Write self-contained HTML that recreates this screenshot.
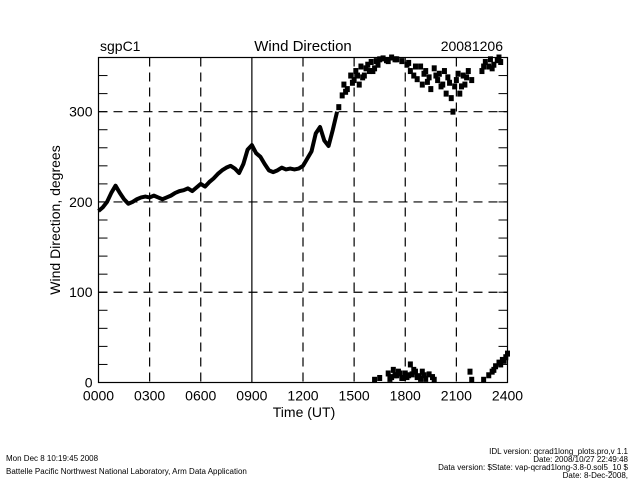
<!DOCTYPE html>
<html><head><meta charset="utf-8"><style>
html,body{margin:0;padding:0;background:#fff;width:640px;height:480px;overflow:hidden}
svg{display:block;font-family:"Liberation Sans",sans-serif}
</style></head><body>
<svg id="chart" width="640" height="480" viewBox="0 0 640 480">
<text x="100" y="51" font-size="14">sgpC1</text>
<text x="303" y="51" font-size="15" text-anchor="middle">Wind Direction</text>
<text x="503" y="51" font-size="14" text-anchor="end">20081206</text>
<g id="grid"></g>
<g id="marks"></g>
<rect x="98.5" y="57.5" width="409" height="325" fill="none" stroke="#000" stroke-width="1.2"/>
<g id="axes"></g>
<text x="304" y="417" font-size="14" text-anchor="middle">Time (UT)</text>
<text transform="translate(60,220) rotate(-90)" font-size="14" text-anchor="middle">Wind Direction, degrees</text>
<text x="6" y="461" font-size="8">Mon Dec  8 10:19:45 2008</text>
<text x="6" y="474" font-size="8">Battelle Pacific Northwest National Laboratory, Arm Data Application</text>
<g font-size="8" text-anchor="end">
<text x="628" y="454">IDL version: qcrad1long_plots.pro,v 1.1</text>
<text x="628" y="462">Date: 2008/10/27 22:49:48</text>
<text x="628" y="470">Data version: $State: vap-qcrad1long-3.8-0.sol5_10 $</text>
<text x="628" y="478">Date: 8-Dec-2008,</text>
</g>
</svg>
<script>
const xTicks=[0,3,6,9,12,15,18,21,24];
const xTickLabels=["0000","0300","0600","0900","1200","1500","1800","2100","2400"];
const yTicks=[0,100,200,300];
const yTickLabels=["0","100","200","300"];
const lineHours=[0,0.25,0.5,0.75,1,1.25,1.5,1.75,2,2.25,2.5,2.75,3,3.25,3.5,3.75,4,4.25,4.5,4.75,5,5.25,5.5,5.75,6,6.25,6.5,6.75,7,7.25,7.5,7.75,8,8.25,8.5,8.75,9,9.25,9.5,9.75,10,10.25,10.5,10.75,11,11.25,11.5,11.75,12,12.25,12.5,12.75,13,13.25,13.5,13.75,14];
const lineValues=[190,194,200,210,218,210,203,198,200,203,205,206,205,207,205,203,205,207,210,212,213,215,212,216,220,217,222,226,231,235,238,240,237,232,242,258,263,254,250,242,235,233,235,238,236,237,236,237,240,248,256,276,283,268,262,280,300];
const scatterHours=[14.1,14.3,14.4,14.6,14.8,15.0,15.1,15.3,15.4,15.6,15.8,15.9,16.0,16.2,16.3,16.5,16.7,16.9,17.2,17.5,17.8,18.1,18.3,18.5,18.7,18.9,19.0,19.2,19.4,19.5,19.7,19.9,20.0,20.2,20.4,20.5,20.7,20.8,20.9,21.0,21.2,21.4,21.5,21.7,21.9,22.5,22.7,22.9,23.0,23.2,23.4,23.6,
14.5,14.9,15.2,15.5,15.7,16.1,16.4,17.0,17.4,18.2,18.6,19.1,19.3,19.8,20.1,20.3,20.6,21.1,21.3,21.6,22.6,23.1,23.5,
16.2,16.5,17.0,17.2,17.3,17.5,17.6,17.8,18.0,18.1,18.3,18.4,18.6,18.8,19.0,19.2,19.4,19.6,19.7,21.8,21.9,22.6,22.9,23.1,23.3,23.5,23.7,23.9,24.0,
17.1,17.4,17.7,17.9,18.2,18.5,18.7,18.9,19.1,23.2,23.6,23.8];
const scatterValues=[305,318,330,325,340,335,345,330,350,340,352,345,355,348,356,358,359,357,360,358,356,352,345,340,336,350,330,345,338,325,348,335,342,330,320,338,315,300,328,335,320,340,330,345,335,345,355,350,358,352,357,355,
322,332,340,338,348,345,352,356,358,354,350,342,333,340,328,345,332,342,328,338,350,348,360,
3,5,10,6,14,8,12,5,10,6,20,9,12,7,12,4,9,6,3,12,3,3,8,12,18,22,25,28,32,
4,8,10,5,8,14,6,4,8,14,20,24];
const X0=98.5,X1=507.5,Y0=382.5,Y1=57.5;
const xs=h=>X0+(X1-X0)*h/24;
const ys=v=>Y0-(Y0-Y1)*v/360;
const NS="http://www.w3.org/2000/svg";
function mk(t,a,p){const e=document.createElementNS(NS,t);for(const k in a)e.setAttribute(k,a[k]);p.appendChild(e);return e;}
const grid=document.getElementById('grid'),axes=document.getElementById('axes'),marks=document.getElementById('marks');
xTicks.forEach((h,i)=>{
  if(h>0&&h<24){const l=mk('line',{x1:xs(h),x2:xs(h),y1:Y1,y2:Y0,stroke:'#000','stroke-width':1.2,'stroke-dasharray':h===9?'none':'9,6'},grid);
  
  }
  const t=mk('text',{x:xs(h),y:Y0+18,'font-size':14,'text-anchor':'middle'},axes);t.textContent=xTickLabels[i];
  
  
});
yTicks.forEach((v,i)=>{
  if(v>0){const l=mk('line',{x1:X0,x2:X1,y1:ys(v),y2:ys(v),stroke:'#000','stroke-width':1.2,'stroke-dasharray':'9,6'},grid);
  
  }
  const t=mk('text',{x:X0-6,y:ys(v)+5,'font-size':14,'text-anchor':'end'},axes);t.textContent=yTickLabels[i];
  
  
});
for(let v=20;v<360;v+=20){
  mk('line',{x1:X0,x2:X0+9,y1:ys(v),y2:ys(v),stroke:'#000','stroke-width':1},axes);
  mk('line',{x1:X1-9,x2:X1,y1:ys(v),y2:ys(v),stroke:'#000','stroke-width':1},axes);
}
const pl=mk('polyline',{points:lineHours.map((h,i)=>xs(h)+','+ys(lineValues[i])).join(' '),fill:'none',stroke:'#000','stroke-width':4,'stroke-linejoin':'round'},marks);


scatterHours.forEach((h,i)=>{
  const r=mk('rect',{x:xs(h)-2.5,y:ys(scatterValues[i])-3,width:5,height:6,fill:'#000'},marks);
  
  
});
</script>
</body></html>
